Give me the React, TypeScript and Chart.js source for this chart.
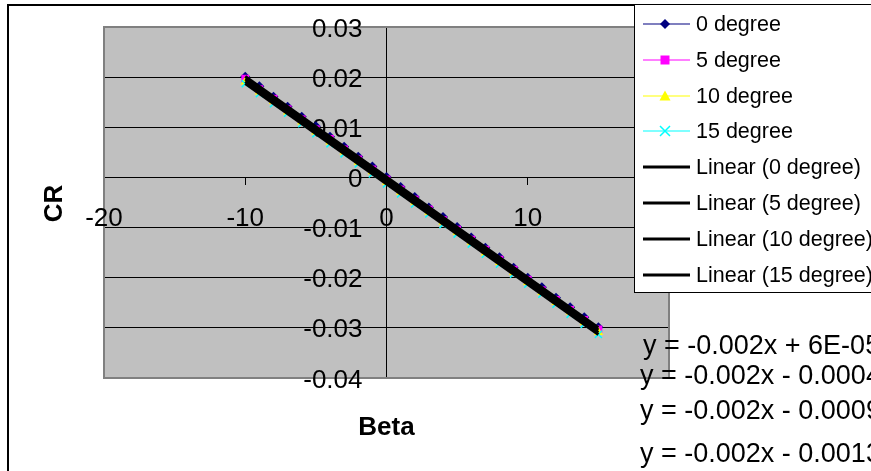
import React, { useEffect, useRef } from "react";
import { Chart, registerables } from "chart.js";

Chart.register(...registerables);

const W = 871;
const H = 471;

const BETA = [-10, -9, -8, -7, -6, -5, -4, -3, -2, -1, 0, 1, 2, 3, 4, 5, 6, 7, 8, 9, 10, 11, 12, 13, 14, 15];

const CR_0 = [0.0201, 0.0182, 0.0161, 0.0141, 0.0121, 0.0102, 0.0081, 0.0061, 0.0041, 0.0022, 0.0001, -0.0019, -0.0039, -0.006, -0.0079, -0.0099, -0.012, -0.014, -0.0159, -0.018, -0.02, -0.0219, -0.024, -0.0259, -0.0279, -0.0299];
const CR_5 = [0.0197, 0.0176, 0.0157, 0.0136, 0.0116, 0.0096, 0.0077, 0.0056, 0.0036, 0.0016, -0.0004, -0.0024, -0.0044, -0.0064, -0.0085, -0.0104, -0.0124, -0.0144, -0.0164, -0.0184, -0.0204, -0.0225, -0.0244, -0.0264, -0.0284, -0.0303];
const CR_10 = [0.0191, 0.0171, 0.0152, 0.0131, 0.0111, 0.0091, 0.0071, 0.0051, 0.0031, 0.0012, -0.0009, -0.0029, -0.0049, -0.0069, -0.0089, -0.0109, -0.0129, -0.015, -0.0169, -0.0189, -0.0209, -0.0229, -0.0249, -0.0268, -0.0289, -0.0309];
const CR_15 = [0.0187, 0.0167, 0.0147, 0.0128, 0.0107, 0.0087, 0.0067, 0.0047, 0.0027, 0.0007, -0.0013, -0.0033, -0.0053, -0.0073, -0.0094, -0.0113, -0.0133, -0.0153, -0.0173, -0.0193, -0.0213, -0.0233, -0.0253, -0.0273, -0.0293, -0.0313];

const SERIES_NAMES = ["0 degree", "5 degree", "10 degree", "15 degree"];
const TREND_NAMES = ["Linear (0 degree)", "Linear (5 degree)", "Linear (10 degree)", "Linear (15 degree)"];
const EQUATIONS = ["y = -0.002x + 6E-05", "y = -0.002x - 0.0004", "y = -0.002x - 0.0009", "y = -0.002x - 0.0013"];

const X_TICKS = [-20, -10, 0, 10, 20];
const X_TICK_LABELS = ["-20", "-10", "0", "10", "20"];
const Y_TICKS = [0.03, 0.02, 0.01, 0, -0.01, -0.02, -0.03, -0.04];
const Y_TICK_LABELS = ["0.03", "0.02", "0.01", "0", "-0.01", "-0.02", "-0.03", "-0.04"];

const X_TITLE = "Beta";
const Y_TITLE = "CR";

const SERIES_VALUES = [CR_0, CR_5, CR_10, CR_15];
const COLORS = ["#000080", "#FF00FF", "#FFFF00", "#00FFFF"];
const STYLES = ["rectRot", "rect", "triangle", "crossRot"];
const RADII = [5, 5.5, 5.5, 5];

const FONT = '"Liberation Sans", Arial, sans-serif';

function fit(xs: number[], ys: number[]) {
  const n = xs.length;
  let sx = 0, sy = 0, sxx = 0, sxy = 0;
  for (let i = 0; i < n; i++) {
    sx += xs[i]; sy += ys[i]; sxx += xs[i] * xs[i]; sxy += xs[i] * ys[i];
  }
  const slope = (n * sxy - sx * sy) / (n * sxx - sx * sx);
  const intercept = (sy - slope * sx) / n;
  return { slope, intercept };
}

function drawMarker(ctx: CanvasRenderingContext2D, style: string, x: number, y: number, color: string) {
  ctx.save();
  ctx.fillStyle = color;
  ctx.strokeStyle = color;
  ctx.beginPath();
  if (style === "rectRot") {
    ctx.moveTo(x, y - 5); ctx.lineTo(x + 5, y); ctx.lineTo(x, y + 5); ctx.lineTo(x - 5, y); ctx.closePath(); ctx.fill();
  } else if (style === "rect") {
    ctx.rect(x - 4.5, y - 4.5, 9, 9); ctx.fill();
  } else if (style === "triangle") {
    ctx.moveTo(x, y - 5.5); ctx.lineTo(x + 5.5, y + 4.5); ctx.lineTo(x - 5.5, y + 4.5); ctx.closePath(); ctx.fill();
  } else {
    ctx.lineWidth = 1.5;
    ctx.moveTo(x - 5, y - 5); ctx.lineTo(x + 5, y + 5); ctx.moveTo(x + 5, y - 5); ctx.lineTo(x - 5, y + 5); ctx.stroke();
  }
  ctx.restore();
}

const decor = {
  id: "decor",
  beforeDraw(chart: any) {
    const { ctx, chartArea: a } = chart;
    ctx.save();
    ctx.fillStyle = "#ffffff";
    ctx.fillRect(0, 0, W, H);
    ctx.fillStyle = "#000000";
    ctx.fillRect(7, 4, 2, H);
    ctx.fillRect(7, 4, W, 2);
    ctx.fillStyle = "#C0C0C0";
    ctx.fillRect(a.left, a.top, a.right - a.left, a.bottom - a.top);
    ctx.restore();
  },
  beforeDatasetsDraw(chart: any) {
    const { ctx, chartArea: a } = chart;
    const xs = chart.scales.x;
    const ys = chart.scales.y;
    ctx.save();
    ctx.strokeStyle = "#808080";
    ctx.lineWidth = 2;
    ctx.strokeRect(a.left, a.top, a.right - a.left, a.bottom - a.top);

    const axisY = ys.getPixelForValue(0);
    const axisX = xs.getPixelForValue(0);
    ctx.fillStyle = "#000000";
    ctx.font = `26px ${FONT}`;
    ctx.textBaseline = "alphabetic";
    ctx.textAlign = "center";
    X_TICKS.forEach((v, i) => {
      ctx.fillText(X_TICK_LABELS[i], xs.getPixelForValue(v), axisY + 49);
    });
    ctx.textAlign = "right";
    Y_TICKS.forEach((v, i) => {
      ctx.fillText(Y_TICK_LABELS[i], axisX - 24, ys.getPixelForValue(v) + 9.5);
    });
    ctx.restore();
  },
  afterDraw(chart: any) {
    const { ctx } = chart;
    ctx.save();
    // axis titles
    ctx.fillStyle = "#000000";
    ctx.font = `bold 26px ${FONT}`;
    ctx.textAlign = "center";
    ctx.textBaseline = "alphabetic";
    ctx.fillText(X_TITLE, 386.5, 435);
    ctx.save();
    ctx.translate(61.5, 203.5);
    ctx.rotate(-Math.PI / 2);
    ctx.fillText(Y_TITLE, 0, 0);
    ctx.restore();

    // legend
    ctx.fillStyle = "#ffffff";
    ctx.fillRect(634, 4, 300, 289);
    ctx.strokeStyle = "#000000";
    ctx.lineWidth = 1;
    ctx.strokeRect(634.5, 4.5, 300, 288);
    const baselines = [31, 67, 103, 138, 174, 210, 246, 282];
    ctx.font = `21.5px ${FONT}`;
    ctx.textAlign = "left";
    SERIES_NAMES.forEach((name, i) => {
      const b = baselines[i];
      const cy = b - 7;
      ctx.strokeStyle = COLORS[i];
      ctx.lineWidth = 1.2;
      ctx.beginPath();
      ctx.moveTo(643, cy);
      ctx.lineTo(690, cy);
      ctx.stroke();
      drawMarker(ctx, STYLES[i], 665, cy, COLORS[i]);
      ctx.fillStyle = "#000000";
      ctx.fillText(name, 696, b);
    });
    TREND_NAMES.forEach((name, i) => {
      const b = baselines[4 + i];
      const cy = b - 7;
      ctx.strokeStyle = "#000000";
      ctx.lineWidth = 3;
      ctx.beginPath();
      ctx.moveTo(643, cy);
      ctx.lineTo(690, cy);
      ctx.stroke();
      ctx.fillStyle = "#000000";
      ctx.fillText(name, 696, b);
    });

    // trendline equations
    ctx.font = `27px ${FONT}`;
    const eqPos = [
      [643, 354],
      [640, 384],
      [640, 419],
      [640, 462],
    ];
    EQUATIONS.forEach((t, i) => {
      ctx.fillText(t, eqPos[i][0], eqPos[i][1]);
    });
    ctx.restore();
  },
};

export default function App() {
  const ref = useRef<HTMLCanvasElement | null>(null);
  useEffect(() => {
    if (!ref.current) return;
    const seriesSets = SERIES_VALUES.map((vals, i) => ({
      label: SERIES_NAMES[i],
      data: BETA.map((x, j) => ({ x, y: vals[j] })),
      showLine: true,
      borderColor: COLORS[i],
      backgroundColor: COLORS[i],
      borderWidth: 1,
      pointStyle: STYLES[i],
      pointRadius: RADII[i],
      pointBorderWidth: i === 3 ? 1.5 : 0,
      pointBackgroundColor: COLORS[i],
      pointBorderColor: COLORS[i],
      order: 4 - i,
    }));
    const xMin = Math.min(...BETA);
    const xMax = Math.max(...BETA);
    const trendSets = SERIES_VALUES.map((vals, i) => {
      const { slope, intercept } = fit(BETA, vals);
      return {
        label: TREND_NAMES[i],
        data: [
          { x: xMin, y: slope * xMin + intercept },
          { x: xMax, y: slope * xMax + intercept },
        ],
        showLine: true,
        borderColor: "#000000",
        backgroundColor: "#000000",
        borderWidth: 3,
        pointRadius: 0,
        order: 0,
      };
    });
    const chart = new Chart(ref.current, {
      type: "scatter",
      data: { datasets: [...seriesSets, ...trendSets] as any },
      options: {
        animation: false,
        responsive: false,
        devicePixelRatio: 1,
        layout: { padding: { left: 104, top: 27, right: W - 669, bottom: H - 378 } },
        plugins: { legend: { display: false }, tooltip: { enabled: false }, title: { display: false } },
        scales: {
          x: {
            type: "linear",
            position: { y: 0 } as any,
            min: -20,
            max: 20,
            ticks: { stepSize: 10, display: false },
            grid: { display: true, drawOnChartArea: false, drawTicks: true, tickLength: 7, color: "#000000", lineWidth: 1 },
            border: { display: true, color: "#000000", width: 1 },
          },
          y: {
            type: "linear",
            position: { x: 0 } as any,
            min: -0.04,
            max: 0.03,
            ticks: { stepSize: 0.01, display: false },
            grid: { display: true, drawOnChartArea: true, drawTicks: true, tickLength: 8, color: "#000000", lineWidth: 1 },
            border: { display: true, color: "#000000", width: 1 },
          },
        },
      } as any,
      plugins: [decor],
    });
    return () => chart.destroy();
  }, []);
  return (
    <div style={{ position: "absolute", left: 0, top: 0, width: W, height: H }}>
      <canvas ref={ref} width={W} height={H} style={{ display: "block" }} />
    </div>
  );
}
